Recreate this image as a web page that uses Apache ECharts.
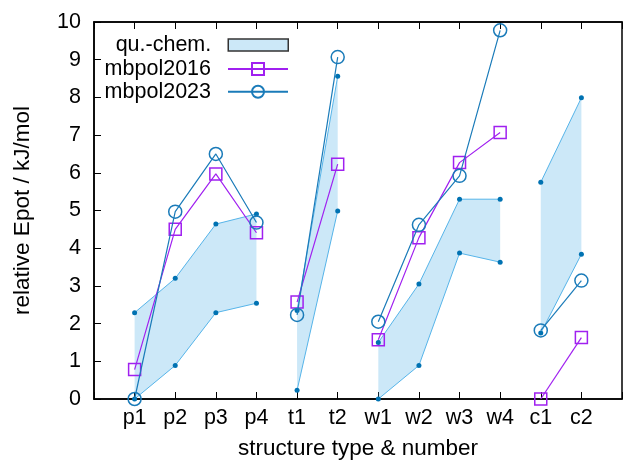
<!DOCTYPE html>
<html>
<head>
<meta charset="utf-8">
<script src="https://cdn.jsdelivr.net/npm/echarts@6/dist/echarts.min.js"></script>
<style>
  html, body { margin: 0; padding: 0; background: #fff; }
  #chart { width: 625px; height: 465px; }
</style>
</head>
<body>
<div id="chart"></div>
<script>
// Structures along the x axis, split into families (p, t, w, c)
const structures = ['p1', 'p2', 'p3', 'p4', 't1', 't2', 'w1', 'w2', 'w3', 'w4', 'c1', 'c2'];
const familySizes = [4, 2, 4, 2];

// Quantum-chemistry range (upper and lower bound), kJ/mol
const quChemUpper = [2.29, 3.20, 4.64, 4.91, 2.35, 8.56, 1.50, 3.05, 5.30, 5.30, 5.75, 7.99];
const quChemLower = [0.00, 0.89, 2.29, 2.54, 0.23, 4.99, 0.00, 0.89, 3.87, 3.63, 1.75, 3.84];

// Model potentials, kJ/mol
const mbpol2016 = [0.78, 4.50, 5.97, 4.41, 2.57, 6.23, 1.57, 4.28, 6.27, 7.07, 0.00, 1.63];
const mbpol2023 = [0.00, 4.97, 6.50, 4.68, 2.23, 9.07, 2.05, 4.62, 5.92, 9.78, 1.82, 3.14];

const yTicks = [0, 1, 2, 3, 4, 5, 6, 7, 8, 9, 10];

const FONT = '"Liberation Sans", Arial, Helvetica, sans-serif';
const BAND_FILL = 'rgba(86,180,233,0.30)';
const BAND_EDGE = '#56B4E9';
const BAND_DOT = '#0072B2';
const C2016 = '#a020f0';
const C2023 = '#1a7bb9';

// Axis categories with an empty slot at each end for padding
const axisCats = [''].concat(structures, ['']);

// Family index ranges (positions on the category axis)
const families = [];
let start = 0;
familySizes.forEach(n => { families.push({ start, end: start + n - 1 }); start += n; });

function familyData(values, fam) {
  const out = axisCats.map(() => '-');
  for (let i = fam.start; i <= fam.end; i++) out[i + 1] = values[i];
  return out;
}

const series = [];

// Shaded quantum-chemistry band, one polygon per family
series.push({
  name: 'qu.-chem.',
  type: 'custom',
  silent: true,
  z: 1,
  itemStyle: { color: BAND_FILL },
  data: families.map((f, i) => [f.start + 1, 0, i]),
  encode: { x: 0, y: 1 },
  renderItem: function (params, api) {
    const f = families[params.dataIndex];
    const pts = [];
    for (let i = f.start; i <= f.end; i++) pts.push(api.coord([i + 1, quChemUpper[i]]));
    for (let i = f.end; i >= f.start; i--) pts.push(api.coord([i + 1, quChemLower[i]]));
    return { type: 'polygon', shape: { points: pts }, style: { fill: BAND_FILL, stroke: null } };
  }
});

// Band edges with vertex dots
families.forEach(f => {
  [quChemUpper, quChemLower].forEach(vals => {
    series.push({
      name: 'qu.-chem. bound',
      type: 'line',
      silent: true,
      z: 2,
      data: familyData(vals, f),
      connectNulls: false,
      symbol: 'circle',
      symbolSize: 5,
      showSymbol: true,
      itemStyle: { color: BAND_DOT },
      lineStyle: { color: BAND_EDGE, width: 1 }
    });
  });
});

// Model curves
[[mbpol2016, 'mbpol2016', C2016, 'rect', 12, 3], [mbpol2023, 'mbpol2023', C2023, 'circle', 13, 4]].forEach(([vals, name, color, sym, size, z]) => {
  families.forEach(f => {
    series.push({
      name,
      type: 'line',
      silent: true,
      z,
      data: familyData(vals, f),
      connectNulls: false,
      symbol: sym,
      symbolSize: size,
      showSymbol: true,
      itemStyle: { color: 'rgba(0,0,0,0)', borderColor: color, borderWidth: 1.5 },
      lineStyle: { color, width: 1.2 }
    });
  });
});

const axisLineStyle = { color: '#000', width: 1.5 };
const tickStyle = { color: '#000', width: 1 };

const option = {
  animation: false,
  backgroundColor: '#fff',
  textStyle: { fontFamily: FONT },
  grid: { left: 94, top: 22, right: -7, bottom: 66, show: true, borderColor: '#000', borderWidth: 1.5, containLabel: false },
  legend: [
    {
      data: [{ name: 'qu.-chem.', icon: 'rect', itemStyle: { color: BAND_FILL, borderColor: '#333', borderWidth: 1.5 } }],
      right: 331, top: 29,
      itemWidth: 60, itemHeight: 12,
      align: 'right',
      selectedMode: false,
      textStyle: { fontFamily: FONT, fontSize: 21.5, color: '#000', padding: [0, 12, 0, 0] }
    },
    {
      data: ['mbpol2016', 'mbpol2023'],
      orient: 'vertical',
      right: 331, top: 53,
      itemWidth: 60, itemHeight: 15,
      itemGap: 0.7,
      align: 'right',
      selectedMode: false,
      textStyle: { fontFamily: FONT, fontSize: 21.5, color: '#000', padding: [0, 12, 0, 0] }
    }
  ],
  xAxis: [
    {
      type: 'category',
      data: axisCats,
      boundaryGap: false,
      position: 'bottom',
      axisLine: { lineStyle: axisLineStyle },
      axisTick: { inside: true, length: 7, interval: 0, lineStyle: tickStyle },
      axisLabel: { interval: 0, color: '#000', fontSize: 21.5, fontFamily: FONT, margin: 8 },
      splitLine: { show: false },
      name: 'structure type & number',
      nameLocation: 'middle',
      nameGap: 38,
      nameTextStyle: { color: '#000', fontSize: 22.5, fontFamily: FONT }
    },
    {
      type: 'category',
      data: axisCats,
      boundaryGap: false,
      position: 'top',
      axisLine: { lineStyle: axisLineStyle },
      axisTick: { inside: true, length: 7, interval: 0, lineStyle: tickStyle },
      axisLabel: { show: false },
      splitLine: { show: false }
    }
  ],
  yAxis: {
    type: 'value',
    min: yTicks[0],
    max: yTicks[yTicks.length - 1],
    interval: 1,
    axisLine: { show: true, lineStyle: axisLineStyle },
    axisTick: { show: true, inside: true, length: 7, lineStyle: tickStyle },
    axisLabel: { color: '#000', fontSize: 21.5, fontFamily: FONT, margin: 13 },
    splitLine: { show: false },
    name: 'relative Epot / kJ/mol',
    nameLocation: 'middle',
    nameGap: 60,
    nameTextStyle: { color: '#000', fontSize: 22.5, fontFamily: FONT }
  },
  series
};

const chart = echarts.init(document.getElementById('chart'), null, { renderer: 'canvas' });
chart.setOption(option);
</script>
</body>
</html>
